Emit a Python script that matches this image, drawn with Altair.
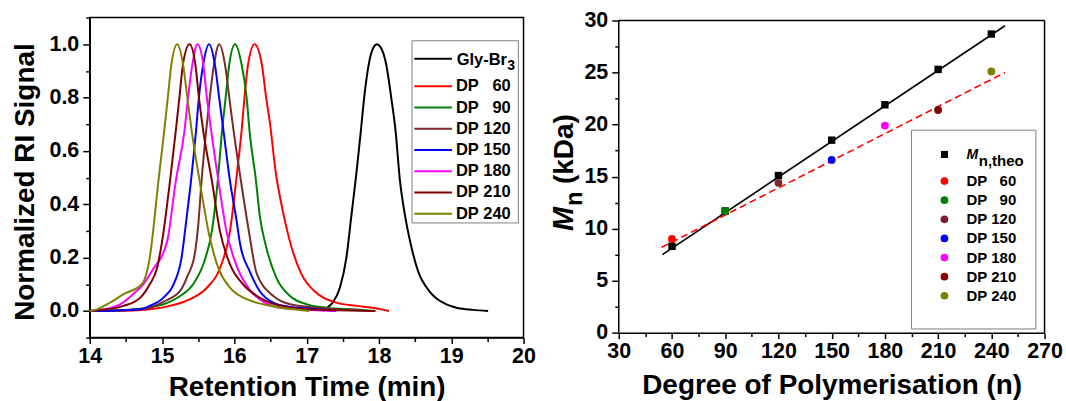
import altair as alt
import pandas as pd

FONT = "Liberation Sans"

# ---------------- Left panel data: GPC traces ----------------
series_names = ["Gly-Br3", "DP 60", "DP 90", "DP 120", "DP 150", "DP 180", "DP 210", "DP 240"]
series_colors = ["#000000", "#FF0000", "#008000", "#7A2A2A", "#0000FF", "#FF00FF", "#800000", "#808000"]

t_gly = [17.22, 17.27, 17.36, 17.46, 17.55, 17.62, 17.69, 17.75, 17.80, 17.87, 17.93, 17.97, 18.02,
         18.10, 18.17, 18.23, 18.29, 18.35, 18.44, 18.54, 18.71, 18.90, 19.09, 19.30, 19.51]
v_gly = [0.0, 0.01, 0.031, 0.087, 0.20, 0.36, 0.52, 0.675, 0.81, 0.94, 0.99, 1.0, 0.99,
         0.925, 0.80, 0.675, 0.49, 0.375, 0.25, 0.15, 0.07, 0.029, 0.011, 0.004, 0.0]

t_60 = [14.0, 14.5, 14.83, 15.11, 15.39, 15.62, 15.80, 15.94, 16.04, 16.10, 16.14, 16.19, 16.28,
        16.38, 16.44, 16.49, 16.57, 16.67, 16.79, 16.93, 17.13, 17.41, 17.69, 17.91, 18.14]
v_60 = [0.0, 0.001, 0.006, 0.019, 0.044, 0.087, 0.16, 0.30, 0.525, 0.675, 0.80, 0.925, 1.0,
        0.925, 0.80, 0.71, 0.525, 0.375, 0.24, 0.137, 0.069, 0.031, 0.019, 0.012, 0.0]

t_90 = [14.0, 14.5, 14.79, 15.02, 15.25, 15.43, 15.59, 15.69, 15.77, 15.83, 15.88, 15.93, 16.01,
        16.10, 16.17, 16.21, 16.30, 16.35, 16.44, 16.58, 16.77, 17.00, 17.27, 17.69, 17.95]
v_90 = [0.0, 0.004, 0.012, 0.025, 0.056, 0.10, 0.19, 0.30, 0.487, 0.675, 0.80, 0.925, 1.0,
        0.925, 0.80, 0.675, 0.487, 0.36, 0.24, 0.125, 0.056, 0.025, 0.012, 0.005, 0.0]

t_120 = [14.0, 14.5, 14.83, 15.02, 15.25, 15.35, 15.45, 15.50, 15.55, 15.61, 15.66, 15.72, 15.79,
         15.87, 15.93, 15.99, 16.09, 16.20, 16.31, 16.54, 16.77, 17.22, 17.91]
v_120 = [0.0, 0.003, 0.012, 0.035, 0.075, 0.13, 0.21, 0.32, 0.50, 0.675, 0.80, 0.925, 1.0,
         0.925, 0.80, 0.675, 0.49, 0.30, 0.14, 0.056, 0.025, 0.01, 0.0]

t_150 = [14.0, 14.3, 14.70, 14.83, 15.02, 15.16, 15.27, 15.34, 15.40, 15.47, 15.51, 15.57, 15.65,
         15.73, 15.79, 15.85, 15.94, 16.03, 16.08, 16.21, 16.35, 16.54, 16.77, 17.00, 17.41]
v_150 = [0.0, 0.001, 0.006, 0.019, 0.05, 0.10, 0.20, 0.35, 0.487, 0.675, 0.80, 0.925, 1.0,
         0.925, 0.80, 0.675, 0.487, 0.34, 0.25, 0.15, 0.075, 0.031, 0.015, 0.01, 0.0]

t_180 = [14.0, 14.145, 14.42, 14.60, 14.74, 14.86, 15.07, 15.19, 15.31, 15.36, 15.42, 15.49,
         15.57, 15.62, 15.68, 15.78, 15.89, 16.03, 16.21, 16.40, 16.58, 16.80, 17.41]
v_180 = [0.0, 0.004, 0.025, 0.063, 0.10, 0.15, 0.26, 0.487, 0.675, 0.80, 0.925, 1.0,
         0.925, 0.80, 0.675, 0.487, 0.30, 0.17, 0.08, 0.035, 0.015, 0.008, 0.0]

t_210 = [14.0, 14.24, 14.47, 14.70, 14.83, 14.93, 15.00, 15.11, 15.19, 15.24, 15.29, 15.38,
         15.46, 15.51, 15.57, 15.69, 15.80, 15.94, 16.12, 16.35, 16.49, 16.80, 17.20, 17.95]
v_210 = [0.0, 0.006, 0.019, 0.05, 0.10, 0.16, 0.26, 0.487, 0.675, 0.80, 0.925, 1.0,
         0.925, 0.80, 0.675, 0.487, 0.30, 0.175, 0.10, 0.05, 0.031, 0.012, 0.004, 0.0]

t_240 = [14.0, 14.10, 14.28, 14.47, 14.72, 14.83, 14.95, 15.03, 15.08, 15.13, 15.21,
         15.29, 15.35, 15.41, 15.52, 15.66, 15.78, 15.94, 16.17, 16.40, 16.81, 17.04]
v_240 = [0.0, 0.006, 0.031, 0.063, 0.10, 0.20, 0.487, 0.675, 0.80, 0.925, 1.0,
         0.925, 0.80, 0.675, 0.487, 0.275, 0.16, 0.087, 0.044, 0.025, 0.006, 0.0]

all_t = [t_gly, t_60, t_90, t_120, t_150, t_180, t_210, t_240]
all_v = [v_gly, v_60, v_90, v_120, v_150, v_180, v_210, v_240]

x_major_l = [14, 15, 16, 17, 18, 19, 20]
x_minor_l = [14.5, 15.5, 16.5, 17.5, 18.5, 19.5]
y_major_l = [0.0, 0.2, 0.4, 0.6, 0.8, 1.0]
y_minor_l = [-0.1, 0.1, 0.3, 0.5, 0.7, 0.9, 1.1]

# ---------------- Right panel data ----------------
dp = [60, 90, 120, 150, 180, 210, 240]
mn_theo = [8.3, 11.7, 15.1, 18.5, 21.9, 25.3, 28.7]
mn_exp = [9.0, 11.7, 14.4, 16.6, 19.9, 21.4, 25.1]
exp_labels = ["DP 60", "DP 90", "DP 120", "DP 150", "DP 180", "DP 210", "DP 240"]
exp_colors = ["#FF0000", "#008000", "#7B1F2E", "#0000FF", "#FF00FF", "#8B0000", "#808000"]
fit_theo_x = [54.6, 247.7]
fit_theo_y = [7.5, 29.5]
fit_exp_x = [54.2, 247.7]
fit_exp_y = [8.2, 25.0]

x_major_r = [30, 60, 90, 120, 150, 180, 210, 240, 270]
x_minor_r = [45, 75, 105, 135, 165, 195, 225, 255]
y_major_r = [0, 5, 10, 15, 20, 25, 30]
y_minor_r = [2.5, 7.5, 12.5, 17.5, 22.5, 27.5]

# ---------------- build tables ----------------
rows = []
for name, ts, vs in zip(series_names, all_t, all_v):
    for i, (t, v) in enumerate(zip(ts, vs)):
        rows.append({"series": name, "t": t, "v": v, "i": i})
gpc = pd.DataFrame(rows)

pts = pd.DataFrame({"dp": dp, "theo": mn_theo, "exp": mn_exp, "label": exp_labels})
fit_theo = pd.DataFrame({"x": fit_theo_x, "y": fit_theo_y})
fit_exp = pd.DataFrame({"x": fit_exp_x, "y": fit_exp_y})
dummy = pd.DataFrame({"a": [0]})

LABEL_FS = 21.5
W_L, H_L = 435, 321
W_R, H_R = 427, 316
R_TOP_GAP = 3.0  # right plot frame sits 3 px below the left one

# ---------------- Left panel ----------------
xs_l = alt.Scale(domain=[14, 20], nice=False, zero=False)
ys_l = alt.Scale(domain=[-0.1, 1.1], nice=False, zero=False)

curves = alt.Chart(gpc).mark_line(strokeWidth=2, interpolate="monotone").encode(
    x=alt.X("t:Q", scale=xs_l,
            axis=alt.Axis(orient="bottom", values=x_major_l, format="d", tickSize=6, labelPadding=2,
                          labelFlush=False,
                          title="Retention Time (min)", titleX=W_L / 2, titleY=58,
                          titleAlign="center", titleBaseline="alphabetic", titleAngle=0)),
    y=alt.Y("v:Q", scale=ys_l,
            axis=alt.Axis(orient="left", values=y_major_l, format=".1f", tickSize=7, labelPadding=4,
                          title="Normalized RI Signal", titleX=-56.5, titleY=164.5, titleAngle=270,
                          titleAlign="center", titleBaseline="alphabetic")),
    color=alt.Color("series:N", scale=alt.Scale(domain=series_names, range=series_colors), legend=None),
    order=alt.Order("i:Q"),
)

minor_l = alt.Chart(pd.DataFrame({"t": [14.0], "v": [0.0]})).mark_point(opacity=0).encode(
    x=alt.X("t:Q", scale=xs_l, axis=alt.Axis(orient="bottom", values=x_minor_l, labels=False,
                                             domain=False, tickSize=4, title=None)),
    y=alt.Y("v:Q", scale=ys_l, axis=alt.Axis(orient="left", values=y_minor_l, labels=False,
                                             domain=False, tickSize=4, title=None)),
)

left_layers = [curves, minor_l]

# left legend (layout in pixels of the plot area)
LB_X1, LB_X2, LB_Y1, LB_Y2 = 323.2, 429.8, 23.3, 206.0
left_layers.append(alt.Chart(dummy).mark_rect(fill="white", stroke="#7f7f7f", strokeWidth=1).encode(
    x=alt.value(LB_X1), x2=alt.value(LB_X2), y=alt.value(LB_Y1), y2=alt.value(LB_Y2)))
leg_y = [41.3] + [69.0 + k * 21.28 for k in range(7)]
for name, col, yy in zip(series_names, series_colors, leg_y):
    left_layers.append(alt.Chart(dummy).mark_rule(strokeWidth=2, color=col).encode(
        x=alt.value(325.5), x2=alt.value(363.2), y=alt.value(yy)))
    if name == "Gly-Br3":
        left_layers.append(alt.Chart(dummy).mark_text(font=FONT, fontWeight="bold", fontSize=16.5,
                                                      align="left", baseline="middle", color="black").encode(
            x=alt.value(368.0), y=alt.value(yy + 1), text=alt.value("Gly-Br")))
        left_layers.append(alt.Chart(dummy).mark_text(font=FONT, fontWeight="bold", fontSize=14,
                                                      align="left", baseline="middle", color="black").encode(
            x=alt.value(418.6), y=alt.value(yy + 7), text=alt.value("3")))
    else:
        dp_txt, num_txt = name.split(" ")
        left_layers.append(alt.Chart(dummy).mark_text(font=FONT, fontWeight="bold", fontSize=16.5,
                                                      align="left", baseline="middle", color="black").encode(
            x=alt.value(367.2), y=alt.value(yy), text=alt.value(dp_txt)))
        left_layers.append(alt.Chart(dummy).mark_text(font=FONT, fontWeight="bold", fontSize=16.5,
                                                      align="right", baseline="middle", color="black").encode(
            x=alt.value(422.2), y=alt.value(yy), text=alt.value(num_txt)))

left = alt.layer(*left_layers).resolve_axis(x="independent", y="independent").properties(
    width=W_L, height=H_L)

# ---------------- Right panel ----------------
y_top_r = 30 * H_R / (H_R - R_TOP_GAP)
xs_r = alt.Scale(domain=[30, 270], nice=False, zero=False)
ys_r = alt.Scale(domain=[0, y_top_r], nice=False, zero=False)

right_layers = []
RB_X1, RB_X2, RB_Y1, RB_Y2 = 293.6, 418.3, 113.0, 312.3
right_layers.append(alt.Chart(dummy).mark_rect(fill="white", stroke="#7f7f7f", strokeWidth=1).encode(
    x=alt.value(RB_X1), x2=alt.value(RB_X2), y=alt.value(RB_Y1), y2=alt.value(RB_Y2)))

line_theo = alt.Chart(fit_theo).mark_line(color="black", strokeWidth=1.6).encode(
    x=alt.X("x:Q", scale=xs_r,
            axis=alt.Axis(orient="bottom", values=x_major_r, format="d", tickSize=6, labelPadding=2,
                          labelFlush=False,
                          title="Degree of Polymerisation (n)", titleX=W_R / 2, titleY=61,
                          titleAlign="center", titleBaseline="alphabetic", titleAngle=0)),
    y=alt.Y("y:Q", scale=ys_r,
            axis=alt.Axis(orient="left", values=y_major_r, format="d", tickSize=7, labelPadding=4,
                          domain=False, title=None)),
)
minor_r = alt.Chart(pd.DataFrame({"x": [30.0], "y": [0.0]})).mark_point(opacity=0).encode(
    x=alt.X("x:Q", scale=xs_r, axis=alt.Axis(orient="bottom", values=x_minor_r, labels=False,
                                             domain=False, tickSize=4, title=None)),
    y=alt.Y("y:Q", scale=ys_r, axis=alt.Axis(orient="left", values=y_minor_r, labels=False,
                                             domain=False, tickSize=4, title=None)),
)
line_exp = alt.Chart(fit_exp).mark_line(color="#FF0000", strokeWidth=1.6, strokeDash=[7, 4]).encode(
    x=alt.X("x:Q", scale=xs_r, axis=None), y=alt.Y("y:Q", scale=ys_r, axis=None))
sq = alt.Chart(pts).mark_square(size=55, color="black", opacity=1).encode(
    x=alt.X("dp:Q", scale=xs_r, axis=None), y=alt.Y("theo:Q", scale=ys_r, axis=None))
circ = alt.Chart(pts).mark_circle(size=62, opacity=1).encode(
    x=alt.X("dp:Q", scale=xs_r, axis=None), y=alt.Y("exp:Q", scale=ys_r, axis=None),
    color=alt.Color("label:N", scale=alt.Scale(domain=exp_labels, range=exp_colors), legend=None))

right_layers += [line_theo, minor_r, line_exp, sq, circ]

# frame of the right plot (top, left, right edges)
for fx1, fx2, fy1, fy2 in [(0, W_R, R_TOP_GAP, R_TOP_GAP), (0, 0, R_TOP_GAP, H_R), (W_R, W_R, R_TOP_GAP, H_R)]:
    right_layers.append(alt.Chart(dummy).mark_rule(color="black", strokeWidth=1.5).encode(
        x=alt.value(fx1), x2=alt.value(fx2), y=alt.value(fy1), y2=alt.value(fy2)))

# right y-axis title: M (italic) + subscript n + (kDa)
right_layers.append(alt.Chart(dummy).mark_text(font=FONT, fontWeight="bold", fontStyle="italic", fontSize=29,
                                               angle=270, align="left", baseline="alphabetic", color="black").encode(
    x=alt.value(-45.7), y=alt.value(214.0), text=alt.value("M")))
right_layers.append(alt.Chart(dummy).mark_text(font=FONT, fontWeight="bold", fontSize=24,
                                               angle=270, align="left", baseline="alphabetic", color="black").encode(
    x=alt.value(-37.0), y=alt.value(189.0), text=alt.value("n")))
right_layers.append(alt.Chart(dummy).mark_text(font=FONT, fontWeight="bold", fontSize=28,
                                               angle=270, align="left", baseline="alphabetic", color="black").encode(
    x=alt.value(-45.7), y=alt.value(167.0), text=alt.value("(kDa)")))

# right legend
rl_y = [137.3] + [164.0 + k * 19.17 for k in range(7)]
SYM_X, TXT_X, NUM_X = 326.6, 348.6, 398.6
right_layers.append(alt.Chart(dummy).mark_square(size=50, color="black", opacity=1).encode(
    x=alt.value(SYM_X), y=alt.value(rl_y[0])))
right_layers.append(alt.Chart(dummy).mark_text(font=FONT, fontWeight="bold", fontStyle="italic", fontSize=14,
                                               align="left", baseline="middle", color="black").encode(
    x=alt.value(TXT_X), y=alt.value(rl_y[0] + 1), text=alt.value("M")))
right_layers.append(alt.Chart(dummy).mark_text(font=FONT, fontWeight="bold", fontSize=15,
                                               align="left", baseline="middle", color="black").encode(
    x=alt.value(TXT_X + 12.5), y=alt.value(rl_y[0] + 7), text=alt.value("n,theo")))
for lab, col, yy in zip(exp_labels, exp_colors, rl_y[1:]):
    dp_txt, num_txt = lab.split(" ")
    right_layers.append(alt.Chart(dummy).mark_circle(size=60, color=col, opacity=1).encode(
        x=alt.value(SYM_X), y=alt.value(yy)))
    right_layers.append(alt.Chart(dummy).mark_text(font=FONT, fontWeight="bold", fontSize=15,
                                                   align="left", baseline="middle", color="black").encode(
        x=alt.value(TXT_X), y=alt.value(yy), text=alt.value(dp_txt)))
    right_layers.append(alt.Chart(dummy).mark_text(font=FONT, fontWeight="bold", fontSize=15,
                                                   align="right", baseline="middle", color="black").encode(
        x=alt.value(NUM_X), y=alt.value(yy), text=alt.value(num_txt)))

right = alt.layer(*right_layers).resolve_axis(x="independent", y="independent").properties(
    width=W_R, height=H_R, view=alt.ViewBackground(stroke="transparent"))

chart = alt.hconcat(left, right, spacing=12.5).properties(
    padding={"left": 10, "top": 8, "right": 2, "bottom": 0},
    background="white",
).configure_axis(
    labelFont=FONT, labelFontWeight="bold", labelFontSize=LABEL_FS, labelColor="black",
    titleFont=FONT, titleFontWeight="bold", titleFontSize=28, titleColor="black",
    tickColor="black", domainColor="black", tickWidth=1.5, domainWidth=1.5, grid=False,
).configure_view(stroke="black", strokeWidth=1.5)

chart.save("out.html", embed_options={"renderer": "svg", "actions": False})
